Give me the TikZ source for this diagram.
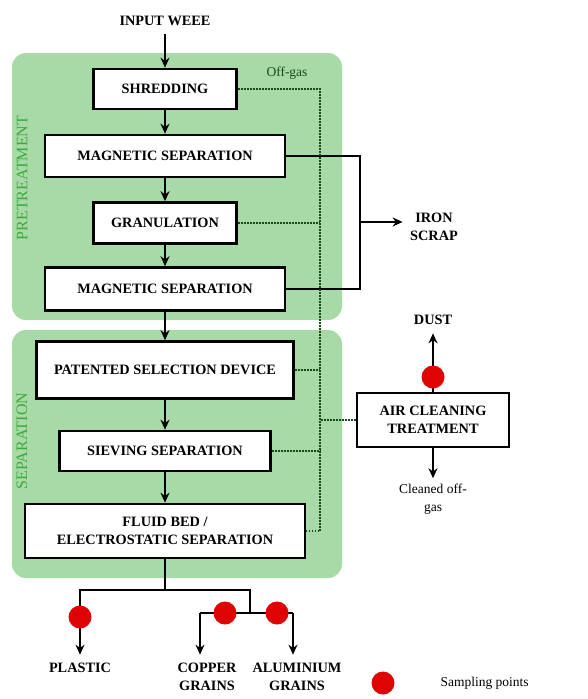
\documentclass[tikz,border=0pt]{standalone}
\usepackage{fontspec}
\setmainfont{Liberation Serif}
\usetikzlibrary{arrows.meta, positioning}
\usetikzlibrary{calc}
\definecolor{PanelGreen}{RGB}{168,218,168}
\definecolor{LabelGreen}{RGB}{62,168,62}
\definecolor{GasGreen}{RGB}{20,75,20}
\definecolor{SampleRed}{RGB}{222,4,4}

\begin{document}
\begin{tikzpicture}[
        x=1pt, y=-1pt,
        every node/.style={align=center, font=\fontsize{14.3}{18}\selectfont\bfseries},
        box/.style={draw, line width=2.6pt, fill=white, inner sep=2pt},
        arrow/.style={line width=2.2pt, -{Stealth[length=10pt, width=9pt]}},
        feed/.style={line width=2.2pt},
        gasline/.style={GasGreen, line width=1.7pt, dash pattern=on 1.7pt off 1.3pt},
        panel/.style={fill=PanelGreen, rounded corners=14pt},
        sidelabel/.style={rotate=90, text=LabelGreen, font=\fontsize{16}{18}\selectfont},
        note/.style={font=\fontsize{13.5}{18}\selectfont},
        sample/.style={circle, fill=SampleRed, minimum size=23pt, inner sep=0pt}
    ]
        \useasboundingbox (0,0) rectangle (587,699);
        \fill[panel] (12,53) rectangle (342,320);
        \fill[panel] (12,330) rectangle (342,578);
        \node[sidelabel] (pre) at (22,178) {PRETREATMENT};
        \node[sidelabel] (sep) at (22,441) {SEPARATION};

        \node (weee) at (165,21) {INPUT WEEE};
        \node[box, minimum width=143pt, minimum height=40pt] (shred) at (165,89) {SHREDDING};
        \node[box, minimum width=240pt, minimum height=42pt] (mag1) at (165,156) {MAGNETIC SEPARATION};
        \node[box, minimum width=143pt, minimum height=41pt] (gran) at (165,223) {GRANULATION};
        \node[box, minimum width=240pt, minimum height=43pt] (mag2) at (165,289) {MAGNETIC SEPARATION};
        \node[box, minimum width=257pt, minimum height=57pt] (patent) at (165,370) {PATENTED SELECTION DEVICE};
        \node[box, minimum width=211pt, minimum height=40pt] (sieve) at (165,451) {SIEVING SEPARATION};
        \node[box, minimum width=280pt, minimum height=54pt] (fluid) at (165,531) {FLUID BED /\\ELECTROSTATIC SEPARATION};
        \node[box, minimum width=152pt, minimum height=54pt] (air) at (433,420) {AIR CLEANING\\TREATMENT};

        \node (iron) at (434,227) {IRON\\SCRAP};
        \node (dust) at (433,320) {DUST};
        \node[note] (clean) at (433,499) {Cleaned off-\\gas};
        \node[note, text=GasGreen] (offgas) at (287,73) {Off-gas};
        \node (plastic) at (80,668) {PLASTIC};
        \node (copper) at (207,677) {COPPER\\GRAINS};
        \node (alu) at (297,677) {ALUMINIUM\\GRAINS};
        \node[note, anchor=west] (legend) at (437,683) {Sampling points};

        \draw[arrow, shorten <=5pt] (weee) -- (shred);
        \draw[arrow] (shred) -- (mag1);
        \draw[arrow] (mag1) -- (gran);
        \draw[arrow] (gran) -- (mag2);
        \draw[arrow] (mag2) -- (patent);
        \draw[arrow] (patent) -- (sieve);
        \draw[arrow] (sieve) -- (fluid);

        \coordinate (ironj) at (360,222);
        \draw[feed] (mag1.east) -| (ironj) |- (mag2.east);
        \draw[arrow, shorten >=4pt] (ironj) -- (ironj -| iron.west);

        \coordinate (spine) at (320,0);
        \draw[gasline] (shred.east) -- (shred.east -| spine) -- (fluid.east -| spine) -- (fluid.east);
        \foreach \n in {gran, patent, sieve}
            \draw[gasline] (\n.east) -- (\n.east -| spine);
        \draw[gasline] (air.west) -- (air.west -| spine);

        \draw[arrow, shorten >=5pt] (air) -- (dust);
        \draw[arrow, shorten >=2pt] (air) -- (clean);

        \coordinate (j0) at (165,590);
        \coordinate (j1) at (250,613);
        \coordinate (cu) at (200,613);
        \coordinate (al) at (293,613);
        \draw[feed] (fluid.south) -- (j0);
        \draw[line width=1.4pt, -{Stealth[length=10pt, width=9pt]}, shorten >=5pt] (j0) -| (plastic.north);
        \draw[feed] (j0) -| (j1);
        \draw[feed] (cu) -- (al);
        \draw[arrow, shorten >=5pt] (cu) -- (cu |- copper.north);
        \draw[arrow, shorten >=5pt] (al) -- (al |- alu.north);

        \node[sample] (s1) at (433,377) {};
        \node[sample] (s2) at (80,617) {};
        \node[sample] (s3) at (225,613) {};
        \node[sample] (s4) at (277,613) {};
        \node[sample] (s5) at (383,683) {};
    \end{tikzpicture}
\end{document}
